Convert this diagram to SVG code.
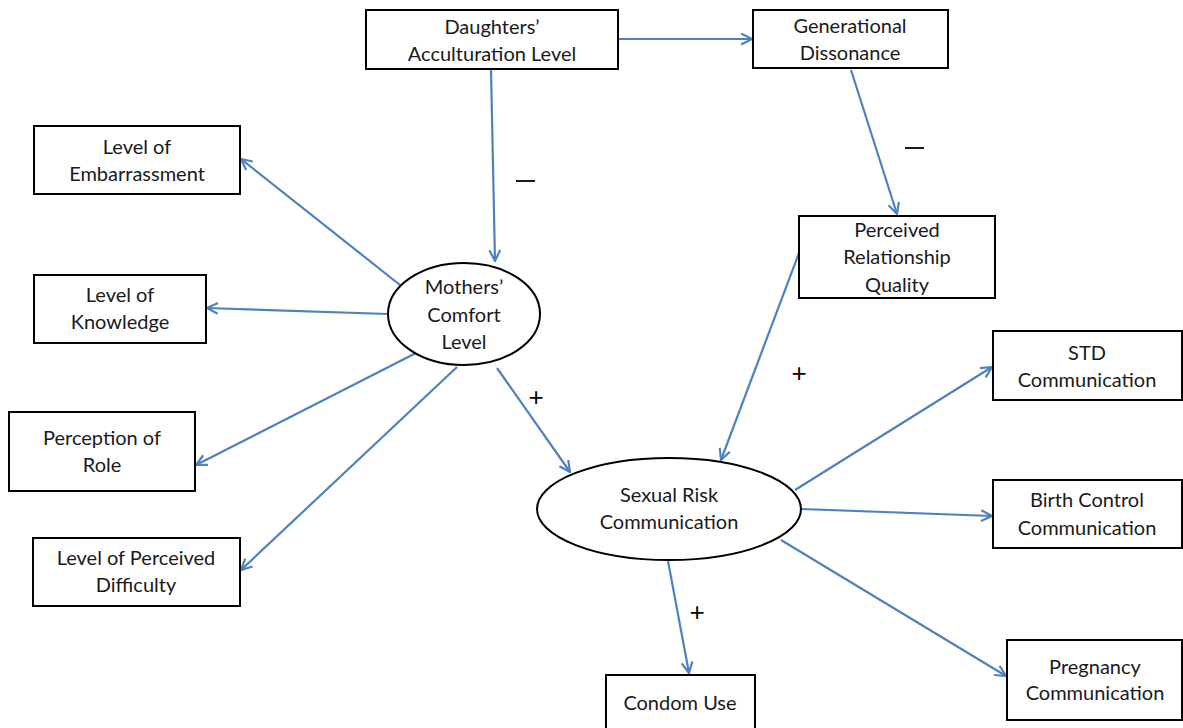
<svg xmlns="http://www.w3.org/2000/svg" width="1183" height="728" viewBox="0 0 1183 728">
<defs>
<marker id="arr" viewBox="0 0 12 12" refX="11" refY="6" markerWidth="13" markerHeight="13" markerUnits="userSpaceOnUse" orient="auto">
<path d="M1,1 L11,6 L1,11" fill="none" stroke="#4F81BD" stroke-width="2"/>
</marker>
<style>
.box{fill:#fff;stroke:#000;stroke-width:2}
.ell{fill:#fff;stroke:#000;stroke-width:2}
.t{font-family:Lato,"Liberation Sans",sans-serif;font-size:20px;fill:#1a1a1a;text-anchor:middle}
.c{stroke:#4F81BD;stroke-width:2.2;fill:none;marker-end:url(#arr)}
.s{font-family:"Liberation Sans",sans-serif;font-size:26px;fill:#000;text-anchor:middle}
</style>
</defs>
<rect width="1183" height="728" fill="#fff"/>
<g id="connectors">
<line class="c" x1="618" y1="39" x2="752" y2="39"/>
<line class="c" x1="491" y1="69" x2="495" y2="261"/>
<line class="c" x1="851" y1="70" x2="897" y2="214"/>
<line class="c" x1="799" y1="253" x2="721" y2="460"/>
<line class="c" x1="400" y1="285" x2="241" y2="159"/>
<line class="c" x1="388" y1="314" x2="207" y2="308"/>
<line class="c" x1="418" y1="352" x2="196" y2="465"/>
<line class="c" x1="457" y1="367" x2="241" y2="570"/>
<line class="c" x1="497" y1="368" x2="570" y2="472"/>
<line class="c" x1="795" y1="490" x2="992" y2="367"/>
<line class="c" x1="801" y1="509" x2="992" y2="516"/>
<line class="c" x1="781" y1="540" x2="1006" y2="676"/>
<line class="c" x1="668" y1="561" x2="689" y2="673"/>
</g>
<g id="labels">
<line x1="516" y1="181" x2="535" y2="181" stroke="#000" stroke-width="1.8"/>
<line x1="905" y1="148" x2="924" y2="148" stroke="#000" stroke-width="1.8"/>
<text class="s" x="536" y="406">+</text>
<text class="s" x="799" y="382">+</text>
<text class="s" x="697" y="621">+</text>
</g>
<g id="daughters">
<rect class="box" x="366" y="10" width="252" height="59"/>
<text class="t" x="492" y="34">Daughters’</text>
<text class="t" x="492" y="61">Acculturation Level</text>
</g>
<g id="generational">
<rect class="box" x="753" y="10" width="195" height="58"/>
<text class="t" x="850" y="33">Generational</text>
<text class="t" x="850" y="60">Dissonance</text>
</g>
<g id="embarrassment">
<rect class="box" x="34" y="126" width="206" height="68"/>
<text class="t" x="137" y="154">Level of</text>
<text class="t" x="137" y="181">Embarrassment</text>
</g>
<g id="knowledge">
<rect class="box" x="34" y="275" width="172" height="68"/>
<text class="t" x="120" y="302">Level of</text>
<text class="t" x="120" y="329">Knowledge</text>
</g>
<g id="role">
<rect class="box" x="9" y="412" width="186" height="79"/>
<text class="t" x="102" y="445">Perception of</text>
<text class="t" x="102" y="472">Role</text>
</g>
<g id="difficulty">
<rect class="box" x="33" y="538" width="207" height="68"/>
<text class="t" x="136" y="565">Level of Perceived</text>
<text class="t" x="136" y="592">Difficulty</text>
</g>
<g id="mothers">
<ellipse class="ell" cx="464" cy="314" rx="76" ry="51"/>
<text class="t" x="464" y="294">Mothers’</text>
<text class="t" x="464" y="322">Comfort</text>
<text class="t" x="464" y="349">Level</text>
</g>
<g id="relationship">
<rect class="box" x="799" y="216" width="196" height="82"/>
<text class="t" x="897" y="237">Perceived</text>
<text class="t" x="897" y="264">Relationship</text>
<text class="t" x="897" y="292">Quality</text>
</g>
<g id="sexualrisk">
<ellipse class="ell" cx="669" cy="509" rx="132" ry="51"/>
<text class="t" x="669" y="502">Sexual Risk</text>
<text class="t" x="669" y="529">Communication</text>
</g>
<g id="std">
<rect class="box" x="993" y="331" width="189" height="69"/>
<text class="t" x="1087" y="360">STD</text>
<text class="t" x="1087" y="387">Communication</text>
</g>
<g id="birthcontrol">
<rect class="box" x="993" y="480" width="189" height="68"/>
<text class="t" x="1087" y="507">Birth Control</text>
<text class="t" x="1087" y="535">Communication</text>
</g>
<g id="pregnancy">
<rect class="box" x="1007" y="640" width="175" height="80"/>
<text class="t" x="1095" y="674">Pregnancy</text>
<text class="t" x="1095" y="700">Communication</text>
</g>
<g id="condom">
<rect class="box" x="606" y="675" width="149" height="60"/>
<text class="t" x="680" y="710">Condom Use</text>
</g>
</svg>
